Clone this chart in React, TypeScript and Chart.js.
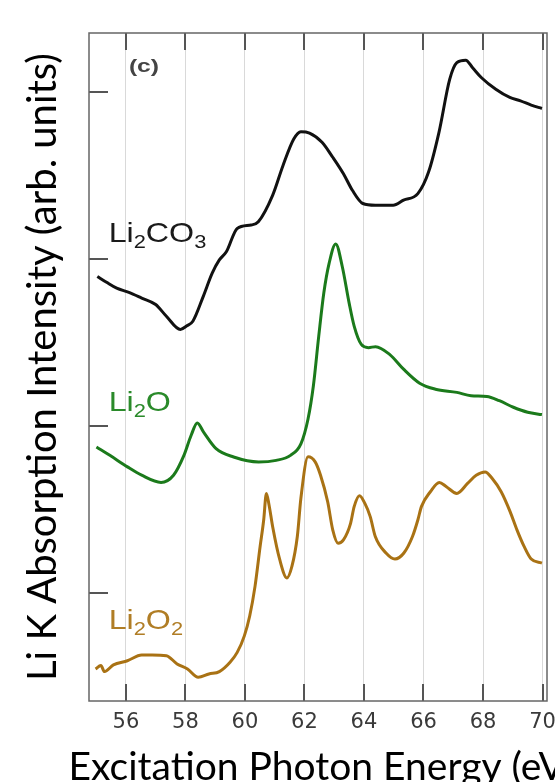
import React, { useEffect, useRef } from 'react';
import { Chart, registerables } from 'chart.js';

Chart.register(...registerables);

// ---- data ----
const xTickValues = [56, 58, 60, 62, 64, 66, 68, 70];
const yTickValues = [0, 1, 2, 3];
const xTitle = 'Excitation Photon Energy (eV)';
const yTitle = 'Li K Absorption Intensity (arb. units)';

const li2co3X = [55.04, 55.35, 55.69, 56.1, 56.53, 57.0, 57.36, 57.83, 58.05, 58.25, 58.6, 58.9, 59.14, 59.38, 59.74, 60.21, 60.45, 60.93, 61.28, 61.64, 61.88, 62.17, 62.59, 62.95, 63.31, 63.61, 63.96, 64.38, 64.98, 65.33, 65.81, 66.17, 66.52, 66.88, 67.12, 67.42, 67.65, 67.95, 68.43, 68.9, 69.26, 69.62, 69.98];
const li2co3Y = [1.895, 1.86, 1.825, 1.8, 1.766, 1.727, 1.657, 1.578, 1.6, 1.627, 1.776, 1.915, 1.994, 2.044, 2.183, 2.203, 2.223, 2.381, 2.56, 2.718, 2.762, 2.754, 2.699, 2.609, 2.51, 2.411, 2.332, 2.322, 2.322, 2.352, 2.391, 2.52, 2.758, 3.075, 3.175, 3.19, 3.145, 3.085, 3.016, 2.967, 2.947, 2.921, 2.901];

const li2oX = [55.01, 55.46, 56.05, 56.53, 57.18, 57.6, 57.95, 58.19, 58.4, 58.61, 59.03, 59.62, 60.46, 61.05, 61.53, 61.88, 62.12, 62.3, 62.48, 62.65, 62.83, 63.05, 63.27, 63.5, 63.67, 63.91, 64.15, 64.39, 64.86, 65.33, 65.87, 66.4, 67.12, 67.6, 68.13, 68.55, 69.02, 69.5, 69.98];
const li2oY = [0.874, 0.824, 0.755, 0.705, 0.662, 0.705, 0.824, 0.943, 1.018, 0.963, 0.864, 0.814, 0.784, 0.794, 0.824, 0.893, 1.042, 1.241, 1.538, 1.796, 1.975, 2.09, 1.955, 1.737, 1.598, 1.488, 1.469, 1.475, 1.429, 1.34, 1.256, 1.22, 1.201, 1.181, 1.177, 1.151, 1.112, 1.082, 1.068];

const li2o2X = [54.98, 55.16, 55.28, 55.58, 56.05, 56.53, 56.88, 57.36, 57.72, 58.07, 58.43, 58.79, 59.14, 59.5, 59.74, 59.98, 60.16, 60.34, 60.51, 60.63, 60.72, 60.81, 60.93, 61.17, 61.41, 61.58, 61.76, 61.88, 62.12, 62.36, 62.54, 62.78, 62.95, 63.13, 63.31, 63.55, 63.67, 63.85, 64.03, 64.21, 64.38, 64.74, 65.04, 65.34, 65.63, 65.81, 65.93, 66.23, 66.53, 66.77, 67.12, 67.48, 67.77, 68.07, 68.31, 68.61, 68.91, 69.14, 69.38, 69.62, 69.98];
const li2o2Y = [-0.455, -0.435, -0.471, -0.431, -0.406, -0.372, -0.372, -0.376, -0.425, -0.455, -0.505, -0.485, -0.471, -0.415, -0.356, -0.257, -0.138, 0.041, 0.278, 0.437, 0.596, 0.527, 0.398, 0.199, 0.09, 0.16, 0.338, 0.567, 0.815, 0.785, 0.705, 0.546, 0.378, 0.298, 0.318, 0.417, 0.517, 0.582, 0.536, 0.457, 0.338, 0.239, 0.203, 0.239, 0.338, 0.437, 0.517, 0.606, 0.662, 0.636, 0.596, 0.656, 0.705, 0.725, 0.685, 0.606, 0.487, 0.378, 0.279, 0.203, 0.179];

const seriesNames = ['Li2CO3', 'Li2O', 'Li2O2'];
const seriesColors = ['#111111', '#1b7a1b', '#a97214'];

type Part = { t: string; sub?: boolean };
const labelParts: Part[][] = [
  [{ t: '(c)' }],
  [{ t: 'Li' }, { t: '2', sub: true }, { t: 'CO' }, { t: '3', sub: true }],
  [{ t: 'Li' }, { t: '2', sub: true }, { t: 'O' }],
  [{ t: 'Li' }, { t: '2', sub: true }, { t: 'O' }, { t: '2', sub: true }],
];
const labelX = [56.1, 55.42, 55.42, 55.42];
const labelY = [3.12, 2.1, 1.09, -0.215];
const labelColors = ['#444444', '#1a1a1a', '#2a8a2a', '#b07d25'];
const labelSizes = [19, 28, 28, 28];
const labelBold = [true, false, false, false];

const X_MIN = 54.76;
const X_MAX = 70.15;
const Y_MIN = -0.647;
const Y_MAX = 3.353;

const frame = {
  id: 'frame',
  afterDatasetsDraw(chart: any) {
    const { ctx, chartArea } = chart;
    const { left, right, top, bottom } = chartArea;
    const xs = chart.scales.x;
    const ys = chart.scales.y;
    ctx.save();
    ctx.strokeStyle = '#555555';
    ctx.lineWidth = 2;
    ctx.beginPath();
    xTickValues.forEach((v) => {
      const px = Math.round(xs.getPixelForValue(v));
      ctx.moveTo(px, top);
      ctx.lineTo(px, top + 17);
      ctx.moveTo(px, bottom);
      ctx.lineTo(px, bottom - 17);
    });
    yTickValues.forEach((v) => {
      const py = Math.round(ys.getPixelForValue(v));
      ctx.moveTo(left, py);
      ctx.lineTo(left + 19, py);
    });
    ctx.stroke();
    ctx.strokeStyle = '#666666';
    ctx.lineWidth = 1.5;
    ctx.strokeRect(left, top, right - left, bottom - top);
    // x-axis title (drawn without width compression; runs past the page edge)
    ctx.fillStyle = '#000000';
    ctx.font = '39px Lato, "Open Sans", sans-serif';
    ctx.textAlign = 'center';
    ctx.textBaseline = 'alphabetic';
    ctx.fillText(xTitle, (left + right) / 2 + 4, 780);
    labelParts.forEach((parts, i) => {
      const size = labelSizes[i];
      const px = xs.getPixelForValue(labelX[i]);
      const py = ys.getPixelForValue(labelY[i]);
      ctx.save();
      ctx.translate(px, py);
      ctx.scale(i === 0 ? 1.3 : 1.15, 1);
      ctx.fillStyle = labelColors[i];
      ctx.textBaseline = 'alphabetic';
      ctx.textAlign = 'left';
      let cx = 0;
      parts.forEach((p) => {
        const fs = p.sub ? Math.round(size * 0.68) : size;
        ctx.font = `${labelBold[i] ? 'bold ' : ''}${fs}px "Liberation Sans", Arial, sans-serif`;
        ctx.fillText(p.t, cx, p.sub ? size * 0.22 : 0);
        cx += ctx.measureText(p.t).width;
      });
      ctx.restore();
    });
    ctx.restore();
  },
};

export default function App() {
  const ref = useRef<HTMLCanvasElement | null>(null);
  useEffect(() => {
    if (!ref.current) return;
    const xsArr = [li2co3X, li2oX, li2o2X];
    const ysArr = [li2co3Y, li2oY, li2o2Y];
    const chart = new Chart(ref.current, {
      type: 'line',
      data: {
        datasets: seriesNames.map((name, i) => ({
          label: name,
          data: xsArr[i].map((x, j) => ({ x, y: ysArr[i][j] })),
          borderColor: seriesColors[i],
          borderWidth: 3,
          pointRadius: 0,
          fill: false,
          cubicInterpolationMode: 'monotone' as const,
        })),
      },
      options: {
        animation: false,
        responsive: false,
        devicePixelRatio: 1,
        layout: { padding: { left: 0, top: 33, right: 113, bottom: 0 } },
        plugins: { legend: { display: false }, tooltip: { enabled: false } },
        scales: {
          x: {
            type: 'linear',
            min: X_MIN,
            max: X_MAX,
            afterBuildTicks: (s: any) => {
              s.ticks = xTickValues.map((v) => ({ value: v }));
            },
            afterFit: (s: any) => {
              s.height = 99;
            },
            grid: { color: '#d9d9d9', lineWidth: 1, drawTicks: false },
            border: { display: false },
            ticks: {
              autoSkip: false,
              maxRotation: 0,
              padding: 9,
              color: '#3a3a3a',
              font: { family: 'DejaVu Sans', size: 21 },
              callback: (v: any) => String(v),
            },
            title: { display: false },
          },
          y: {
            type: 'linear',
            min: Y_MIN,
            max: Y_MAX,
            afterBuildTicks: (s: any) => {
              s.ticks = yTickValues.map((v) => ({ value: v }));
            },
            afterFit: (s: any) => {
              s.width = 89;
            },
            grid: { display: false, drawTicks: false },
            border: { display: false },
            ticks: { display: false },
            title: {
              display: true,
              text: yTitle,
              color: '#000000',
              font: { family: 'Lato', size: 40 },
              padding: { top: 19, bottom: 0 },
            },
          },
        },
      },
      plugins: [frame],
    });
    return () => chart.destroy();
  }, []);
  return (
    <div
      style={{
        position: 'fixed',
        left: 0,
        top: 0,
        width: 555,
        height: 782,
        overflow: 'hidden',
        background: '#ffffff',
      }}
    >
      <canvas ref={ref} width={660} height={800} style={{ display: 'block' }} />
    </div>
  );
}
